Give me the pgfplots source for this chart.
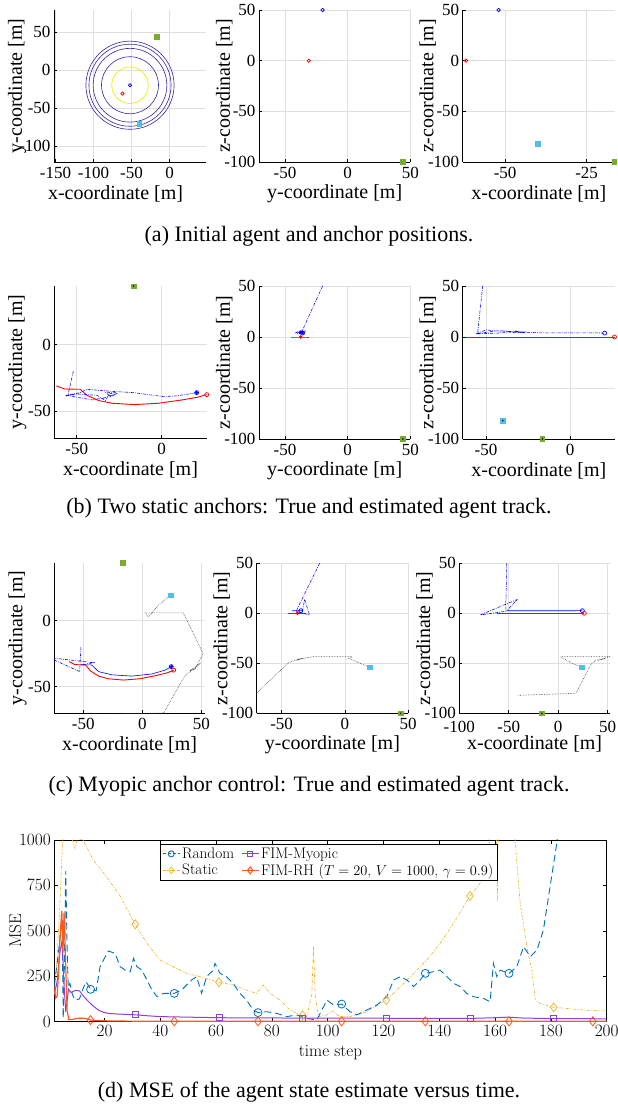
\documentclass[border=0pt]{standalone}
\usepackage{pgfplots}
\pgfplotsset{compat=1.18}
\usepackage{pgfplotstable}
\usepackage{fontspec}
\newfontfamily\tms{Liberation Serif}
\definecolor{navyc}{rgb}{0.2,0.15,0.65}
\definecolor{yelc}{rgb}{0.95,0.92,0}
\definecolor{ancg}{rgb}{0.466,0.674,0.188}
\definecolor{ancb}{rgb}{0.301,0.745,0.933}
\definecolor{mRand}{rgb}{0,0.447,0.741}
\definecolor{mStat}{rgb}{0.929,0.694,0.125}
\definecolor{mMyo}{rgb}{0.55,0.25,0.85}
\definecolor{mRH}{rgb}{1,0.35,0.1}

% ---------- 3D tracks (x y z) ----------
\pgfplotstableread{
x y z
-62 -31 0
-57 -33.3 0
-48 -33.5 0
-44 -38 0
-37 -42 0
-29 -44 0
-16 -45 0
-2 -44 0
12 -41.5 0
21 -39.5 0
26.5 -37.5 0
}\truetrack

\pgfplotstableread{
x y z
-62 -31 0
}\trueStart
\pgfplotstableread{
x y z
26.5 -37.5 0
}\trueEnd
\pgfplotstableread{
x y z
-52 -20 50
}\estStart

\pgfplotstableread{
x y z
-52 -20 50
-55 -37 4
-56 -38.5 3
-50 -37 7
-45 -37.5 6
-38 -38 6
-33 -42 4
-31 -37 5
-27 -36 4
-33 -36 6
-30 -39 4
-26 -36.5 5
-34 -40 5
-41 -41.5 4
-56 -38 3
-48 -36 5
-44 -33.5 6
-30 -35 5
-16.7 -36 4
1 -39 4
9 -38.4 4
16 -37 4
20.6 -36 3.8
}\estB
\pgfplotstableread{
x y z
20.6 -36 3.8
}\estEndB

\pgfplotstableread{
x y z
-52 -20 50
-53 -38.6 2
-79 -28 -1.7
-41 -31.8 14
-52 -33.5 2.5
}\estCa
\pgfplotstableread{
x y z
-52 -33.5 2.5
-43 -33.5 2.5
-37 -38.6 2.5
-26 -41 2.5
-9 -42 2.5
8 -40.4 2.5
19.4 -37.4 2.6
24.5 -34.8 2.6
}\estCb
\pgfplotstableread{
x y z
24.5 -34.8 2.6
}\estEndC

\pgfplotstableread{
x y z
-16.5 44 -100
}\ancG
\pgfplotstableread{
x y z
-40 -71 -82
}\ancB
\pgfplotstableread{
x y z
24 19.5 -54
}\ancBend
\pgfplotstableread{
x y z
-40 -71 -82
18 -70 -80
33.8 -45 -50
38 -40 -47
45 -36 -46
40 -38 -47
48 -33 -45
44 -37 -46
51.5 -25 -43.4
34.6 6 -43.4
2.3 6 -43.4
5 3 -45
14 12 -50
24 19.5 -54
}\ancTrack

% ---------- MSE data ----------
\pgfplotstableread{
x y
2 200
3 320
4 450
4.8 560
5.2 20
5.6 300
6.1 830
6.6 400
7 190
7.6 211
8.5 150
9.4 119
11 125
12.5 190
13.4 220
15 178
17 170
18.4 303
20 350
21.4 389
23.8 376
25.6 303
27.4 284
29.2 275
30.4 349
31.6 303
33.4 284
35.2 229
37.0 174
38.8 138
41.2 156
45 156
47.6 174
51.2 229
53.0 248
54.8 156
56.6 248
59.0 284
59.6 321
61.4 266
63.7 248
66.1 211
68.5 156
70.9 119
73.3 64
75 50
78.1 55
81.7 46
85.3 28
88.9 37
92.5 18
96.1 9
97.3 46
99.7 119
102.1 92
105 97
108.0 55
110.4 37
114.0 64
117.6 92
121.2 138
123.6 229
126.0 248
128.4 229
130.8 193
133.1 229
135 266
137.9 275
140.3 284
142.7 248
145.1 211
147.5 193
149.8 156
152.2 138
155.8 128
158.2 110
159.4 321
160.6 248
161.8 284
165 266
167.8 303
170.2 413
172.6 358
175.0 394
177.3 504
179.7 743
182.1 981
184 1300
188 1800
}\mseRand

\pgfplotstableread{
x y
2 150
3 350
4 650
5 1000
6 1150
7.5 1050
8.5 1000
9.4 954
10.3 1010
12.3 1000
15.9 890
20.7 798
25.4 697
31 536
35.2 431
39.9 340
44.6 303
49.4 266
54.2 248
61 217
66.1 202
70.9 174
74.5 156
76.9 202
79.3 156
82.9 119
86.5 64
90.1 37
91 35
92.5 28
94.3 150
94.9 410
95.5 150
96.7 28
99.7 37
102 60
104 30
108 28
114 55
121 119
126 193
130.8 266
135.5 339
140.3 431
145.1 541
151 692
154.6 761
157 890
158.5 1050
160 1500
160.8 660
161.4 1500
163 2000
165 1800
167 1050
167.8 871
169 651
171.4 413
173.2 284
174.4 119
176.2 101
181 79
185.6 73
191.6 64
199.4 59
200 58
}\mseStat

\pgfplotstableread{
x y
2 150
3 220
4 380
4.8 450
5.5 200
6.1 55
7.1 178
8 160
9.4 172
11 170
12.5 140
14 115
16 85
18 62
20 50
22 45
25 42
28 40
31 38
35 33
40 28
50 25
61 22
70 21
91 20
121 19
140 18
151 18
160 22
165 25
170 20
181 17
200 16
}\mseMyo

\pgfplotstableread{
x y
2 190
2.5 130
3 140
3.5 260
4 460
4.7 610
5.1 380
5.5 600
6 350
6.6 60
7.2 12
8.5 12
10 18
12 20
14 15
15 9
18 6
22 4
30 3
45 2
200 2
}\mseRH

\pgfplotsset{
  subax/.style={
    scale only axis, clip=true,
    axis x line=bottom, axis y line=left,
    axis line style={line width=0.6pt,-},
    grid=major, grid style={gray!25, line width=0.5pt},
    tick style={black, line width=0.5pt}, major tick length=3pt,
    tick align=inside,
    /pgf/number format/assume math mode=true,
    tick label style={font=\tms\fontsize{17}{20}\selectfont},
    xticklabel style={yshift=-1.5pt},
    label style={font=\tms\fontsize{20}{24}\selectfont},
    xlabel style={at={(axis description cs:0.5,-0.207)}, anchor=center},
    ylabel style={at={(axis description cs:-0.23,0.5)}, anchor=center},
  },
  col1/.style={ylabel style={at={(axis description cs:-0.243,0.5)}}},
  estdash/.style={blue, line width=0.55pt, dash pattern=on 3pt off 1.2pt on 0.8pt off 1.2pt},
  endo/.style={only marks, mark=o, mark size=2pt, mark options={line width=0.7pt}},
  anc/.style={only marks, mark=square*, mark size=2.3pt},
  ancdot/.style={only marks, mark=*, mark size=0.5pt, black},
}

\begin{document}
\begin{tikzpicture}
\path[use as bounding box] (0pt,0pt) rectangle (618pt,1113pt);

% ================= Row a =================
\begin{axis}[subax, col1, at={(54pt,951pt)}, anchor=south west, width=152pt, height=152pt,
  xmin=-152, xmax=48, ymin=-121, ymax=79,
  xtick={-150,-100,-50,0}, ytick={-100,-50,0,50},
  xlabel={x-coordinate [m]}, ylabel={y-coordinate [m]},
  xlabel style={at={(axis description cs:0.405,-0.207)}}]
\draw[navyc, line width=0.6pt] (axis cs:-52,-20) circle[radius=37.5];
\draw[navyc, line width=0.6pt] (axis cs:-52,-20) circle[radius=48.5];
\draw[navyc, line width=0.6pt] (axis cs:-52,-20) circle[radius=54];
\draw[navyc, line width=0.6pt] (axis cs:-52,-20) circle[radius=58];
\draw[yelc, line width=0.7pt] (axis cs:-52,-20) circle[radius=24];
\addplot[endo, blue, mark size=1.7pt] table[x=x,y=y]{\estStart};
\addplot[endo, red, mark size=1.7pt] table[x=x,y=y]{\trueStart};
\addplot[anc, ancg] table[x=x,y=y]{\ancG};
\addplot[anc, ancb] table[x=x,y=y]{\ancB};
\end{axis}

\begin{axis}[subax, at={(259pt,951pt)}, anchor=south west, width=151.4pt, height=152pt,
  xmin=-70.7, xmax=50, ymin=-100, ymax=50,
  xtick={-50,0,50}, ytick={-100,-50,0,50},
  xlabel={y-coordinate [m]}, ylabel={z-coordinate [m]}]
\addplot[endo, blue, mark size=1.7pt] table[x=y,y=z]{\estStart};
\addplot[endo, red, mark size=1.7pt] table[x=y,y=z]{\trueStart};
\addplot[anc, ancg] table[x=y,y=z]{\ancG};
\addplot[anc, ancb] table[x=y,y=z]{\ancB};
\end{axis}

\begin{axis}[subax, at={(462.7pt,951pt)}, anchor=south west, width=152.3pt, height=152pt,
  xmin=-63, xmax=-16.3, ymin=-100, ymax=50,
  xtick={-50,-25}, ytick={-100,-50,0,50},
  xlabel={x-coordinate [m]}, ylabel={z-coordinate [m]}]
\addplot[endo, blue, mark size=1.7pt] table[x=x,y=z]{\estStart};
\addplot[endo, red, mark size=1.7pt] table[x=x,y=z]{\trueStart};
\addplot[anc, ancg] table[x=x,y=z]{\ancG};
\addplot[anc, ancb] table[x=x,y=z]{\ancB};
\end{axis}

\node[font=\tms\fontsize{22}{26}\selectfont] at (309pt,877pt) {(a) Initial agent and anchor positions.};

% ================= Row b =================
\begin{axis}[subax, col1, at={(54.3pt,674.7pt)}, anchor=south west, width=152.4pt, height=152.6pt,
  xmin=-63.2, xmax=26.5, ymin=-70.3, ymax=44.3,
  xtick={-50,0}, ytick={-50,0},
  xlabel={x-coordinate [m]}, ylabel={y-coordinate [m]}]
\addplot[red, line width=0.9pt] table[x=x,y=y]{\truetrack};
\addplot[estdash] table[x=x,y=y]{\estB};
\addplot[endo, blue] table[x=x,y=y]{\estEndB};
\addplot[only marks, blue, mark=*, mark size=1.3pt] table[x=x,y=y]{\estEndB};
\addplot[endo, red] table[x=x,y=y]{\trueEnd};
\addplot[anc, ancg] table[x=x,y=y]{\ancG};
\addplot[anc, ancb] table[x=x,y=y]{\ancB};
\addplot[ancdot] table[x=x,y=y]{\ancG};
\addplot[ancdot] table[x=x,y=y]{\ancB};
\end{axis}

\begin{axis}[subax, at={(259pt,674pt)}, anchor=south west, width=151.4pt, height=153pt,
  xmin=-70.7, xmax=50, ymin=-100, ymax=50,
  xtick={-50,0,50}, ytick={-100,-50,0,50},
  xlabel={y-coordinate [m]}, ylabel={z-coordinate [m]}]
\addplot[red, line width=0.9pt] table[x=y,y=z]{\truetrack};
\addplot[estdash] table[x=y,y=z]{\estB};
\addplot[endo, blue] table[x=y,y=z]{\estEndB};
\addplot[only marks, blue, mark=*, mark size=1.3pt] table[x=y,y=z]{\estEndB};
\addplot[only marks, red, mark=*, mark size=1.6pt] table[x=y,y=z]{\trueEnd};
\addplot[anc, ancg] table[x=y,y=z]{\ancG};
\addplot[anc, ancb] table[x=y,y=z]{\ancB};
\addplot[ancdot] table[x=y,y=z]{\ancG};
\addplot[ancdot] table[x=y,y=z]{\ancB};
\end{axis}

\begin{axis}[subax, at={(462.7pt,674pt)}, anchor=south west, width=152.3pt, height=153pt,
  xmin=-63.9, xmax=26.8, ymin=-100, ymax=50,
  xtick={-50,0}, ytick={-100,-50,0,50},
  xlabel={x-coordinate [m]}, ylabel={z-coordinate [m]}]
\addplot[red, line width=0.9pt] table[x=x,y=z]{\truetrack};
\addplot[estdash] table[x=x,y=z]{\estB};
\addplot[endo, blue] table[x=x,y=z]{\estEndB};
\addplot[endo, red] table[x=x,y=z]{\trueEnd};
\addplot[anc, ancg] table[x=x,y=z]{\ancG};
\addplot[anc, ancb] table[x=x,y=z]{\ancB};
\addplot[ancdot] table[x=x,y=z]{\ancG};
\addplot[ancdot] table[x=x,y=z]{\ancB};
\end{axis}

\node[font=\tms\fontsize{22}{26}\selectfont] at (309pt,605pt) {(b) Two static anchors: True and estimated agent track.};

% ================= Row c =================
\begin{axis}[subax, col1, at={(54.3pt,399.7pt)}, anchor=south west, width=150.7pt, height=150.6pt,
  xmin=-74.5, xmax=53, ymin=-70.2, ymax=44,
  xtick={-50,0,50}, ytick={-50,0},
  xlabel={x-coordinate [m]}, ylabel={y-coordinate [m]}]
\addplot[black!75, line width=0.6pt, densely dotted] table[x=x,y=y]{\ancTrack};
\addplot[red, line width=0.9pt] table[x=x,y=y]{\truetrack};
\addplot[estdash] table[x=x,y=y]{\estCa};
\addplot[blue, line width=0.6pt] table[x=x,y=y]{\estCb};
\addplot[endo, blue] table[x=x,y=y]{\estEndC};
\addplot[only marks, blue, mark=*, mark size=1.3pt] table[x=x,y=y]{\estEndC};
\addplot[endo, red] table[x=x,y=y]{\trueEnd};
\addplot[anc, ancg] table[x=x,y=y]{\ancG};
\addplot[anc, ancb] table[x=x,y=y]{\ancBend};
\end{axis}

\begin{axis}[subax, at={(256.7pt,399.7pt)}, anchor=south west, width=151.5pt, height=150pt,
  xmin=-69.7, xmax=50, ymin=-100, ymax=50,
  xtick={-50,0,50}, ytick={-100,-50,0,50},
  xlabel={y-coordinate [m]}, ylabel={z-coordinate [m]}]
\addplot[black!75, line width=0.6pt, densely dotted] table[x=y,y=z]{\ancTrack};
\addplot[red, line width=0.9pt] table[x=y,y=z]{\truetrack};
\addplot[estdash] table[x=y,y=z]{\estCa};
\addplot[blue, line width=0.6pt] table[x=y,y=z]{\estCb};
\addplot[endo, blue] table[x=y,y=z]{\estEndC};
\addplot[only marks, red, mark=*, mark size=1.6pt] table[x=y,y=z]{\trueEnd};
\addplot[anc, ancg] table[x=y,y=z]{\ancG};
\addplot[ancdot] table[x=y,y=z]{\ancG};
\addplot[anc, ancb] table[x=y,y=z]{\ancBend};
\end{axis}

\begin{axis}[subax, at={(459.3pt,399.7pt)}, anchor=south west, width=150.7pt, height=150pt,
  xmin=-100, xmax=52.5, ymin=-100, ymax=50,
  xtick={-100,-50,0,50}, ytick={-100,-50,0,50},
  xticklabel style={yshift=-3pt},
  xlabel={x-coordinate [m]}, ylabel={z-coordinate [m]}]
\addplot[black!75, line width=0.6pt, densely dotted] table[x=x,y=z]{\ancTrack};
\addplot[red, line width=0.9pt] table[x=x,y=z]{\truetrack};
\addplot[estdash] table[x=x,y=z]{\estCa};
\addplot[blue, line width=0.6pt] table[x=x,y=z]{\estCb};
\addplot[endo, blue] table[x=x,y=z]{\estEndC};
\addplot[endo, red] table[x=x,y=z]{\trueEnd};
\addplot[anc, ancg] table[x=x,y=z]{\ancG};
\addplot[ancdot] table[x=x,y=z]{\ancG};
\addplot[anc, ancb] table[x=x,y=z]{\ancBend};
\end{axis}

\node[font=\tms\fontsize{22}{26}\selectfont] at (309pt,327pt) {(c) Myopic anchor control: True and estimated agent track.};

% ================= Row d =================
\begin{axis}[at={(54.3pt,91.3pt)}, anchor=south west, scale only axis,
  width=552.4pt, height=181.7pt,
  xmin=2, xmax=200, ymin=0, ymax=1000,
  xtick={20,40,...,200}, ytick={0,250,500,750,1000},
  scaled ticks=false, /pgf/number format/1000 sep={},
  tick align=inside, major tick length=4pt,
  axis line style={line width=0.6pt}, tick style={line width=0.5pt, black},
  tick label style={font=\fontsize{17}{20}\selectfont},
  label style={font=\fontsize{17}{20}\selectfont},
  xlabel={time step}, ylabel={MSE},
  xlabel style={at={(axis description cs:0.5,-0.17)}, anchor=center},
  ylabel style={at={(axis description cs:-0.0707,0.5)}, anchor=center},
  legend columns=2,
  legend style={at={(0.1913,0.978)}, anchor=north west,
    font=\fontsize{15.3}{18.5}\selectfont, draw=black, line width=0.6pt,
    /tikz/every even column/.append style={column sep=5pt},
    inner xsep=2pt, inner ysep=1.5pt, cells={anchor=west}},
  clip=true]
\addplot[mStat, line width=0.6pt, dash pattern=on 3pt off 1.5pt on 1pt off 1.5pt, forget plot] table[x=x,y=y]{\mseStat};
\addplot[mRand, line width=0.9pt, dash pattern=on 7pt off 4pt, forget plot] table[x=x,y=y]{\mseRand};
\addplot[mMyo, line width=1pt, forget plot] table[x=x,y=y]{\mseMyo};
\addplot[mRH, line width=1.2pt, forget plot] table[x=x,y=y]{\mseRH};
\addplot[mStat, only marks, mark=diamond, mark size=4.5pt, mark options={line width=0.7pt}, forget plot] coordinates {(31,536) (61,217) (91,35) (121,119) (151,692) (181,79)};
\addplot[mRand, only marks, mark=o, mark size=4pt, mark options={line width=0.8pt}, forget plot] coordinates {(15,178) (45,156) (75,50) (105,97) (135,266) (165,266)};
\addplot[mMyo, only marks, mark=square, mark size=3pt, mark options={line width=0.7pt}, forget plot] coordinates {(31,38) (61,22) (91,20) (121,19) (151,18) (181,17)};
\addplot[mRH, only marks, mark=diamond, mark size=4.5pt, mark options={line width=0.8pt}, forget plot] coordinates {(15,9) (45,2) (75,2) (105,2) (135,2) (165,2) (195,2)};
\addlegendimage{mRand, line width=0.9pt, dash pattern=on 3pt off 2pt, mark=o, mark size=3pt, mark options={solid}}
\addlegendentry{Random}
\addlegendimage{mMyo, line width=0.9pt, mark=square, mark size=2.5pt}
\addlegendentry{FIM-Myopic}
\addlegendimage{mStat, line width=0.6pt, dash pattern=on 3pt off 1.5pt on 1pt off 1.5pt, mark=diamond, mark size=3.5pt, mark options={solid}}
\addlegendentry{Static}
\addlegendimage{mRH, line width=1pt, mark=diamond, mark size=3.5pt}
\addlegendentry{FIM-RH ($T=20$, $V=1000$, $\gamma=0.9$)}
\end{axis}

\node[font=\tms\fontsize{22}{26}\selectfont] at (309pt,21pt) {(d) MSE of the agent state estimate versus time.};
\end{tikzpicture}
\end{document}
